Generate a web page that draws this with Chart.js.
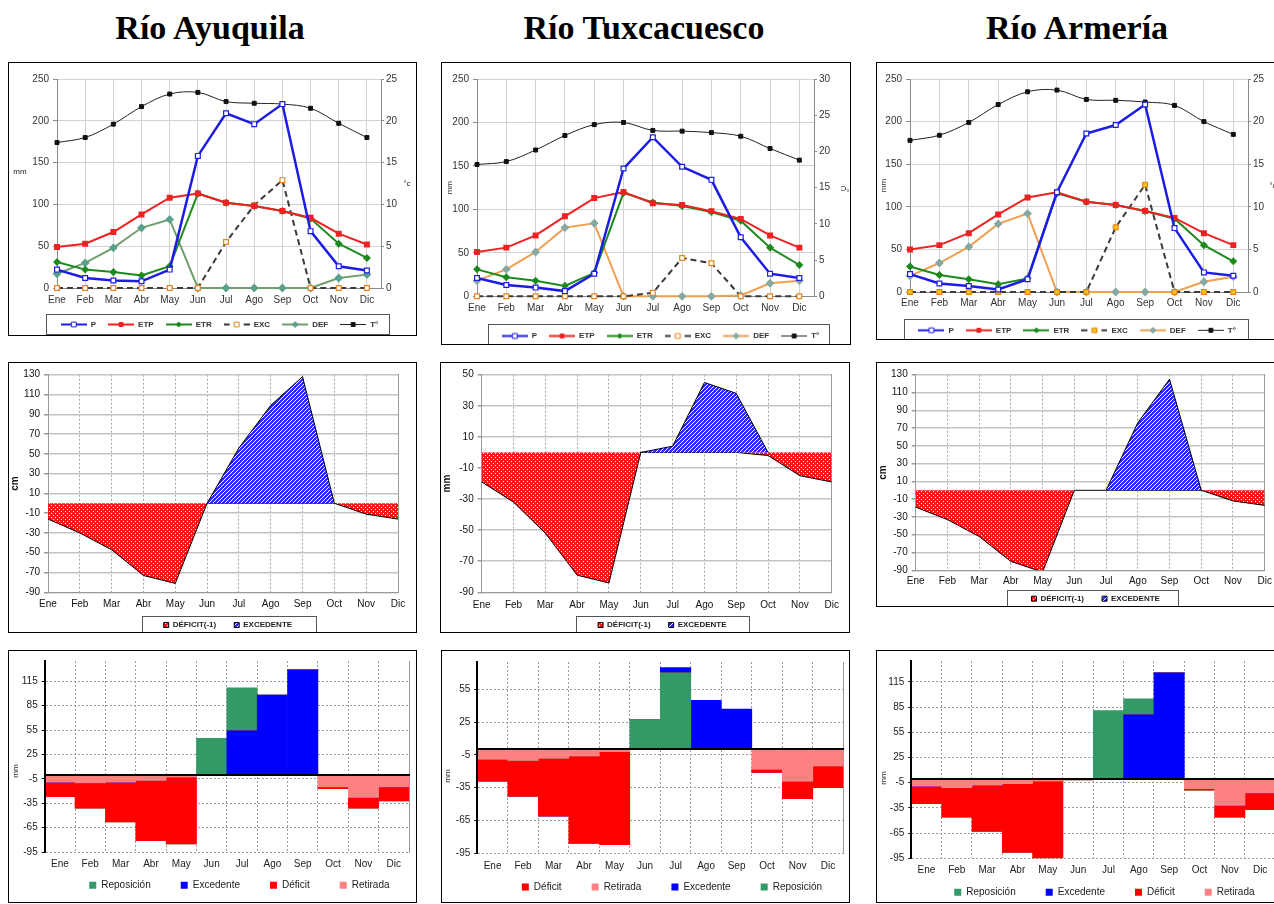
<!DOCTYPE html>
<html lang="es">
<head>
<meta charset="utf-8">
<title>Balance hídrico</title>
<script src="https://cdn.jsdelivr.net/npm/chart.js@4.4.1/dist/chart.umd.min.js"></script>
<style>
  body { margin: 0; width: 1274px; height: 904px; overflow: hidden; background: #fff; position: relative; font-family: 'Liberation Sans', Arial, sans-serif; }
  .title { position: absolute; top: 10px; width: 400px; text-align: center; font: bold 34px/36px 'Liberation Serif', serif; color: #000; }
  .panel { position: absolute; border: 1px solid #000; background: #fff; }
  .panel canvas { display: block; }
  .note { position: absolute; font-size: 8px; line-height: 10px; color: #222; white-space: nowrap; transform: translate(-50%, -50%); }
</style>
</head>
<body>
<div class="title" style="left:10px">Río Ayuquila</div>
<div class="title" style="left:444px">Río Tuxcacuesco</div>
<div class="title" style="left:877px">Río Armería</div>

<div class="panel" style="left:8px;top:62px"><canvas id="clima1" width="407" height="272"></canvas></div>
<div class="panel" style="left:441px;top:62px"><canvas id="clima2" width="408" height="281"></canvas></div>
<div class="panel" style="left:876px;top:62px"><canvas id="clima3" width="418" height="276"></canvas></div>

<div class="panel" style="left:8px;top:362px"><canvas id="gap1" width="407" height="269"></canvas></div>
<div class="panel" style="left:440px;top:362px"><canvas id="gap2" width="408" height="269"></canvas></div>
<div class="panel" style="left:876px;top:362px"><canvas id="gap3" width="418" height="243"></canvas></div>

<div class="panel" style="left:8px;top:650px"><canvas id="agua1" width="407" height="251"></canvas></div>
<div class="panel" style="left:441px;top:650px"><canvas id="agua2" width="407" height="251"></canvas></div>
<div class="panel" style="left:876px;top:650px"><canvas id="agua3" width="418" height="251"></canvas></div>

<span class="note" style="left:20px;top:172px">mm</span>
<span class="note" style="left:407px;top:184px">°c</span>
<span class="note" style="left:845px;top:188px;transform:translate(-50%,-50%) rotate(180deg)">°C</span>
<span class="note" style="left:1273px;top:186px">°c</span>
<span class="note" style="left:16px;top:771px;transform:translate(-50%,-50%) rotate(-90deg)">mm</span>
<span class="note" style="left:448px;top:776px;transform:translate(-50%,-50%) rotate(-90deg)">mm</span>
<span class="note" style="left:884px;top:778px;transform:translate(-50%,-50%) rotate(-90deg)">mm</span>

<script>
Chart.defaults.font.family = "'Liberation Sans', Arial, sans-serif";
Chart.defaults.font.size = 10;
Chart.defaults.color = '#222';

const months = ['Ene', 'Feb', 'Mar', 'Abr', 'May', 'Jun', 'Jul', 'Ago', 'Sep', 'Oct', 'Nov', 'Dic'];
const monthPos = months.map((m, i) => i);

// Río Ayuquila: balance (mm) y temperatura (°C)
const ayuP = [22, 12, 9, 8, 22, 158, 209, 196, 220, 68, 26, 21];
const ayuETP = [49, 53, 67, 88, 108, 113, 102, 98, 92, 84, 65, 52];
const ayuETR = [31, 22, 19, 15, 26, 113, 102, 98, 92, 83, 53, 36];
const ayuEXC = [0, 0, 0, 0, 0, 0, 55, 99, 129, 0, 0, 0];
const ayuDEF = [17, 30, 48, 72, 82, 0, 0, 0, 0, 0, 12, 16];
const ayuT = [17.4, 18.0, 19.6, 21.7, 23.2, 23.4, 22.3, 22.1, 22.0, 21.5, 19.7, 18.0];

// Río Tuxcacuesco
const tuxP = [21, 13, 10, 6, 26, 147, 183, 149, 134, 68, 26, 21];
const tuxETP = [51, 56, 70, 92, 113, 120, 107, 105, 98, 89, 70, 56];
const tuxETR = [31, 22, 18, 12, 27, 119, 108, 104, 97, 87, 56, 36];
const tuxEXC = [0, 0, 0, 0, 0, 0, 4, 44, 38, 0, 0, 0];
const tuxDEF = [18, 31, 51, 79, 84, 0, 0, 0, 0, 1, 15, 18];
const tuxT = [18.2, 18.6, 20.2, 22.2, 23.7, 24.0, 22.9, 22.8, 22.6, 22.1, 20.4, 18.8];

// Río Armería
const armP = [21, 10, 7, 3, 15, 117, 186, 196, 220, 75, 23, 19];
const armETP = [50, 55, 69, 91, 111, 117, 106, 102, 95, 87, 69, 55];
const armETR = [30, 20, 15, 9, 16, 116, 106, 102, 95, 86, 55, 36];
const armEXC = [0, 0, 0, 0, 0, 0, 0, 76, 126, 0, 0, 0];
const armDEF = [19, 34, 53, 80, 92, 0, 0, 0, 0, 0, 12, 18];
const armT = [17.8, 18.4, 19.9, 22.0, 23.5, 23.7, 22.6, 22.5, 22.3, 21.9, 20.0, 18.5];

// déficit (-1) y excedente
const ayuDeficit = [-16, -30, -47, -73, -81, 0, 0, 0, 0, 0, -11, -16];
const ayuExcedente = [null, null, null, null, null, 0, 56, 99, 128, 0, null, null];
const tuxDeficit = [-19, -32, -52, -79, -84, 0, 0, 0, 0, -2, -15, -19];
const tuxExcedente = [null, null, null, null, null, 0, 4, 45, 38, 0, null, null];
const armDeficit = [-19, -33, -52, -80, -92, 0, 0, 0, 0, 0, -12, -17];
const armExcedente = [null, null, null, null, null, null, 0, 76, 125, 0, null, null];

// reposición, excedente, déficit y retirada (mm)
const ayuRepo = [0, 0, 0, 0, 0, 45, 53, 0, 0, 0, 0, 0];
const ayuExce = [0, 0, 0, 0, 0, 0, 54, 98, 129, 0, 0, 0];
const ayuDefi = [-18, -31, -49, -74, -82, 0, 0, 0, 0, -2, -13, -17];
const ayuReti = [-9, -10, -9, -7, -3, 0, 0, 0, 0, -15, -28, -15];

const tuxRepo = [0, 0, 0, 0, 0, 27, 70, 0, 0, 0, 0, 0];
const tuxExce = [0, 0, 0, 0, 0, 0, 5, 45, 37, 0, 0, 0];
const tuxDefi = [-20, -33, -53, -80, -85, 0, 0, 0, 0, -3, -16, -20];
const tuxReti = [-9, -10, -8, -6, -2, 0, 0, 0, 0, -18, -29, -15];

const armRepo = [0, 0, 0, 0, 0, 0, 81, 19, 0, 0, 0, 0];
const armExce = [0, 0, 0, 0, 0, 0, 0, 76, 126, 0, 0, 0];
const armDefi = [-21, -35, -55, -82, -93, -1.5, 0, 0, 0, -2, -14, -20];
const armReti = [-9, -11, -8, -6, -3, 0, 0, 0, 0, -12, -32, -17];

const barTicksHigh = [115, 85, 55, 25, -5, -35, -65, -95];
const barTicksLow = [55, 25, -5, -35, -65, -95];

// puts the legend row where the original one sits (cx, cy = centre of the items)
const legendPlace = {
    id: 'legendPlace',
    afterUpdate(chart, args, opts) {
        const lg = chart.legend;
        if (!lg || opts.cx === undefined) return;
        const hb = lg.legendHitBoxes;
        const last = hb[hb.length - 1];
        const dx = opts.cx - (hb[0].left + last.left + last.width) / 2;
        const dy = opts.cy - (hb[0].top + hb[0].height / 2);
        lg.left += dx;
        lg.right += dx;
        lg.top += dy;
        lg.bottom += dy;
        hb.forEach(h => { h.left += dx; h.top += dy; });
    }
};

// frame around the legend items
const legendBox = {
    id: 'legendBox',
    afterDraw(chart, args, opts) {
        if (!opts.show) return;
        const hb = chart.legend.legendHitBoxes;
        const last = hb[hb.length - 1];
        const left = Math.round(hb[0].left - opts.padL) + 0.5;
        const right = Math.round(last.left + last.width + opts.padR) + 0.5;
        const cy = hb[0].top + hb[0].height / 2;
        const top = Math.round(cy - opts.up) + 0.5;
        const bottom = Math.round(cy + opts.down) - 0.5;
        const ctx = chart.ctx;
        ctx.save();
        ctx.strokeStyle = '#555';
        ctx.lineWidth = 1;
        ctx.strokeRect(left, top, right - left, bottom - top);
        ctx.restore();
    }
};

Chart.register(legendPlace, legendBox);

function sampleIcon(ds) {
    const c = document.createElement('canvas');
    c.width = 26;
    c.height = 9;
    const g = c.getContext('2d');
    g.strokeStyle = ds.borderColor;
    g.lineWidth = Math.min(ds.borderWidth, 2);
    g.setLineDash(ds.borderDash || []);
    g.beginPath();
    g.moveTo(0, 4.5);
    g.lineTo(26, 4.5);
    g.stroke();
    g.setLineDash([]);
    g.fillStyle = ds.pointBackgroundColor;
    g.strokeStyle = ds.pointBorderColor;
    g.lineWidth = 1;
    const r = ds.pointRadius;
    g.beginPath();
    if (ds.pointStyle === 'rectRot') {
        g.moveTo(13, 4.5 - r);
        g.lineTo(13 + r, 4.5);
        g.lineTo(13, 4.5 + r);
        g.lineTo(13 - r, 4.5);
        g.closePath();
    } else {
        const s = r * Math.SQRT1_2;
        g.rect(13 - s, 4.5 - s, 2 * s, 2 * s);
    }
    g.fill();
    g.stroke();
    return c;
}

function climateSets(P, ETP, ETR, EXC, DEF, T, defColor, defMark, excFill) {
    return [
        {label: 'P', data: P, borderColor: '#1c1ce6', borderWidth: 2.5, pointStyle: 'rect', pointRadius: 3.4,
            pointBackgroundColor: '#fff', pointBorderColor: '#1c1ce6', pointBorderWidth: 1.2},
        {label: 'ETP', data: ETP, borderColor: '#ee2222', borderWidth: 2, pointStyle: 'rect', pointRadius: 2.8,
            pointBackgroundColor: '#ee2222', pointBorderColor: '#ee2222'},
        {label: 'ETR', data: ETR, borderColor: '#1d8a1d', borderWidth: 2, pointStyle: 'rectRot', pointRadius: 2.6,
            pointBackgroundColor: '#1d8a1d', pointBorderColor: '#1d8a1d'},
        {label: 'EXC', data: EXC, borderColor: '#3a3a3a', borderWidth: 2, borderDash: [6, 4], pointStyle: 'rect', pointRadius: 3.4,
            pointBackgroundColor: excFill, pointBorderColor: '#e8851a', pointBorderWidth: 1.2},
        {label: 'DEF', data: DEF, borderColor: defColor, borderWidth: 2, pointStyle: 'rectRot', pointRadius: 3,
            pointBackgroundColor: defMark, pointBorderColor: defMark},
        {label: 'T°', data: T, yAxisID: 'y1', borderColor: '#222', borderWidth: 1, tension: 0.35, pointStyle: 'rect', pointRadius: 2.8,
            pointBackgroundColor: '#111', pointBorderColor: '#111'}
    ].map(ds => Object.assign(ds, {fill: false, clip: false}));
}

function climateChart(id, sets, g) {
    return new Chart(document.getElementById(id), {
        type: 'line',
        data: {labels: monthPos, datasets: sets},
        options: {
            responsive: false,
            animation: false,
            events: [],
            layout: {padding: {top: g.top, left: 0, right: 0, bottom: g.padB}},
            scales: {
                x: {
                    type: 'linear', min: 0, max: 11.5,
                    afterBuildTicks: s => { s.ticks = monthPos.map(v => ({value: v})); },
                    afterFit: s => { s.height = 22; },
                    ticks: {callback: v => months[v], autoSkip: false, maxRotation: 0, padding: g.xPad, color: '#333'},
                    grid: {color: '#d2d2d2', drawTicks: false},
                    border: {color: '#8a8a8a'}
                },
                y: {
                    min: 0, max: 250,
                    afterFit: s => { s.width = g.yW; },
                    ticks: {stepSize: 50, padding: 4, color: '#333'},
                    grid: {color: '#d2d2d2', tickLength: 4, tickColor: '#8a8a8a'},
                    border: {color: '#8a8a8a'},
                    title: {display: !!g.yTitle, text: g.yTitle, font: {size: 8}, color: '#333', padding: {top: g.yTitlePad || 0, bottom: 0}}
                },
                y1: {
                    position: 'right', min: 0, max: g.tMax,
                    afterFit: s => { s.width = g.y1W; },
                    ticks: {stepSize: 5, padding: 2, color: '#333'},
                    grid: {drawOnChartArea: false, tickLength: 3, color: '#8a8a8a'},
                    border: {color: '#8a8a8a'}
                }
            },
            plugins: {
                tooltip: {enabled: false},
                legend: {
                    position: 'bottom',
                    labels: {
                        usePointStyle: true, pointStyleWidth: 26, padding: 12,
                        font: {size: 8, weight: 'bold'}, color: '#333',
                        generateLabels: chart => Chart.defaults.plugins.legend.labels.generateLabels(chart)
                            .map(it => Object.assign(it, {pointStyle: sampleIcon(chart.data.datasets[it.datasetIndex])}))
                    }
                },
                legendPlace: {cx: g.cx, cy: g.cy},
                legendBox: Object.assign({show: true}, g.box)
            }
        }
    });
}

function dotPattern() {
    const c = document.createElement('canvas');
    c.width = 4;
    c.height = 4;
    const g = c.getContext('2d');
    g.fillStyle = '#ff1414';
    g.fillRect(0, 0, 4, 4);
    g.fillStyle = '#ffffff';
    g.fillRect(0, 0, 1, 1);
    g.fillRect(2, 2, 1, 1);
    return g.createPattern(c, 'repeat');
}

function stripePattern() {
    const c = document.createElement('canvas');
    c.width = 4;
    c.height = 4;
    const g = c.getContext('2d');
    g.fillStyle = '#2828ff';
    g.fillRect(0, 0, 4, 4);
    g.fillStyle = '#ffffff';
    for (let i = 0; i < 4; i++) g.fillRect(3 - i, i, 1, 1);
    return g.createPattern(c, 'repeat');
}

const redDots = dotPattern();
const blueLines = stripePattern();

function gapChart(id, deficit, excedente, g) {
    return new Chart(document.getElementById(id), {
        type: 'line',
        data: {
            labels: months,
            datasets: [
                {label: 'DÉFICIT(-1)', data: deficit, fill: 'origin', backgroundColor: redDots, borderColor: '#000', borderWidth: 1, pointRadius: 0, order: 2},
                {label: 'EXCEDENTE', data: excedente, fill: 'origin', backgroundColor: blueLines, borderColor: '#000', borderWidth: 1, pointRadius: 0, order: 1}
            ]
        },
        options: {
            responsive: false,
            animation: false,
            events: [],
            layout: {padding: {top: g.top, left: 0, right: g.padR, bottom: g.padB}},
            scales: {
                x: {
                    afterFit: s => { s.height = 22; },
                    ticks: {autoSkip: false, maxRotation: 0, padding: g.xPad, color: '#111'},
                    grid: {color: '#a8a8a8', drawTicks: false},
                    border: {color: '#999', dash: [2, 2]}
                },
                y: {
                    min: g.min, max: g.max,
                    afterFit: s => { s.width = g.yW; },
                    ticks: {stepSize: 20, padding: 4, color: '#111'},
                    grid: {color: '#c4c4c4', lineWidth: 1.5, tickLength: 4, tickColor: '#999'},
                    border: {color: '#999'},
                    title: {display: true, text: g.yTitle, font: {size: 10, weight: 'bold'}, color: '#111', padding: {top: 0, bottom: 0}}
                },
                yR: {
                    position: 'right',
                    afterFit: s => { s.width = 0; },
                    ticks: {display: false},
                    grid: {display: false},
                    border: {color: '#999'}
                }
            },
            plugins: {
                tooltip: {enabled: false},
                legend: {
                    position: 'bottom',
                    labels: {boxWidth: 5, boxHeight: 5, padding: 18, font: {size: 8, weight: 'bold'}, color: '#222',
                        sort: (a, b) => a.datasetIndex - b.datasetIndex}
                },
                legendPlace: {cx: g.cx, cy: g.cy},
                legendBox: Object.assign({show: true}, g.box)
            }
        }
    });
}

const waterColors = {'Reposición': '#339966', 'Excedente': '#0000ff', 'Déficit': '#ff0000', 'Retirada': '#ff8080'};

function waterSets(list) {
    return list.map(([label, data]) => ({label: label, data: data, backgroundColor: waterColors[label], borderWidth: 0}));
}

function waterChart(id, sets, g) {
    return new Chart(document.getElementById(id), {
        type: 'bar',
        data: {labels: months, datasets: sets},
        options: {
            responsive: false,
            animation: false,
            events: [],
            barPercentage: 1,
            categoryPercentage: 1,
            layout: {padding: {top: g.top, left: 0, right: g.padR, bottom: g.padB}},
            scales: {
                x: {
                    stacked: true,
                    afterFit: s => { s.height = 22; },
                    ticks: {autoSkip: false, maxRotation: 0, padding: g.xPad, color: '#222'},
                    grid: {color: '#9c9c9c', drawTicks: false},
                    border: {display: false, dash: [2, 2]}
                },
                x0: {
                    type: 'category', position: {y: 0},
                    ticks: {display: false},
                    grid: {display: false},
                    border: {color: '#000', width: 2, z: 1}
                },
                y: {
                    stacked: true, min: -95, max: g.max,
                    afterBuildTicks: s => { s.ticks = g.ticks.map(v => ({value: v})); },
                    afterFit: s => { s.width = g.yW; },
                    ticks: {padding: 4, color: '#222'},
                    grid: {color: '#9c9c9c', tickLength: 3, tickColor: '#000'},
                    border: {color: '#000', width: 2, dash: [2, 2], z: 1}
                },
                yR: {
                    position: 'right',
                    afterFit: s => { s.width = 0; },
                    ticks: {display: false},
                    grid: {display: false},
                    border: {color: '#999'}
                }
            },
            plugins: {
                tooltip: {enabled: false},
                legend: {
                    position: 'bottom',
                    labels: {boxWidth: 7, boxHeight: 7, padding: 30, color: '#222',
                        sort: (a, b) => g.order.indexOf(a.text) - g.order.indexOf(b.text)}
                },
                legendPlace: {cx: g.cx, cy: g.cy}
            }
        }
    });
}

// fila 1
climateChart('clima1', climateSets(ayuP, ayuETP, ayuETR, ayuEXC, ayuDEF, ayuT, '#6f9f6f', '#5aa08c', '#fff'),
    {top: 16, padB: -5, xPad: 6, yW: 48, y1W: 35, tMax: 25, cx: 210.5, cy: 261.5,
        box: {padL: 15, padR: 11, up: 10.5, down: 10.5}});
climateChart('clima2', climateSets(tuxP, tuxETP, tuxETR, tuxEXC, tuxDEF, tuxT, '#f0a050', '#86a8a2', '#fff'),
    {top: 16, padB: -4.3, xPad: 6, yW: 35, y1W: 36, tMax: 30, yTitle: 'mm', yTitlePad: 2.5, cx: 218.5, cy: 273,
        box: {padL: 14, padR: 10, up: 12, down: 9}});
climateChart('clima3', climateSets(armP, armETP, armETR, armEXC, armDEF, armT, '#f0a050', '#86a8a2', '#f5c518'),
    {top: 16, padB: -5, xPad: 5, yW: 33, y1W: 47, tMax: 25, yTitle: 'mm', yTitlePad: 2, cx: 200.2, cy: 267.3,
        box: {padL: 14, padR: 12, up: 11.6, down: 9.7}});

// fila 2
gapChart('gap1', ayuDeficit, ayuExcedente,
    {top: 11.7, padB: -18.3, padR: 18, xPad: 6, yW: 39, min: -90, max: 130, yTitle: 'cm', cx: 218.9, cy: 262,
        box: {padL: 21.7, padR: 24, up: 9, down: 8}});
gapChart('gap2', tuxDeficit, tuxExcedente,
    {top: 11.7, padB: -18.3, padR: 17.3, xPad: 6.5, yW: 40.7, min: -90, max: 50, yTitle: 'mm', cx: 221.3, cy: 262,
        box: {padL: 22, padR: 22, up: 9, down: 8}});
gapChart('gap3', armDeficit, armExcedente,
    {top: 11.7, padB: -22.3, padR: 30.3, xPad: 5, yW: 38.7, min: -90, max: 130, yTitle: 'cm', cx: 218.7, cy: 235.7,
        box: {padL: 24, padR: 18, up: 8.7, down: 8}});

// fila 3
waterChart('agua1', waterSets([['Retirada', ayuReti], ['Excedente', ayuExce], ['Déficit', ayuDefi], ['Reposición', ayuRepo]]),
    {top: 7, padB: -22, padR: 7, xPad: 6, yW: 35.7, max: 140, ticks: barTicksHigh, cx: 230.4, cy: 234.3,
        order: ['Reposición', 'Excedente', 'Déficit', 'Retirada']});
waterChart('agua2', waterSets([['Retirada', tuxReti], ['Reposición', tuxRepo], ['Déficit', tuxDefi], ['Excedente', tuxExce]]),
    {top: 11, padB: -23.3, padR: 5.7, xPad: 7, yW: 35.3, max: 80, ticks: barTicksLow, cx: 230, cy: 236,
        order: ['Déficit', 'Retirada', 'Excedente', 'Reposición']});
waterChart('agua3', waterSets([['Retirada', armReti], ['Excedente', armExce], ['Déficit', armDefi], ['Reposición', armRepo]]),
    {top: 9.3, padB: -28.3, padR: 19.7, xPad: 6.4, yW: 34.3, max: 140, ticks: barTicksHigh, cx: 227.4, cy: 241.3,
        order: ['Reposición', 'Excedente', 'Déficit', 'Retirada']});
</script>
</body>
</html>
